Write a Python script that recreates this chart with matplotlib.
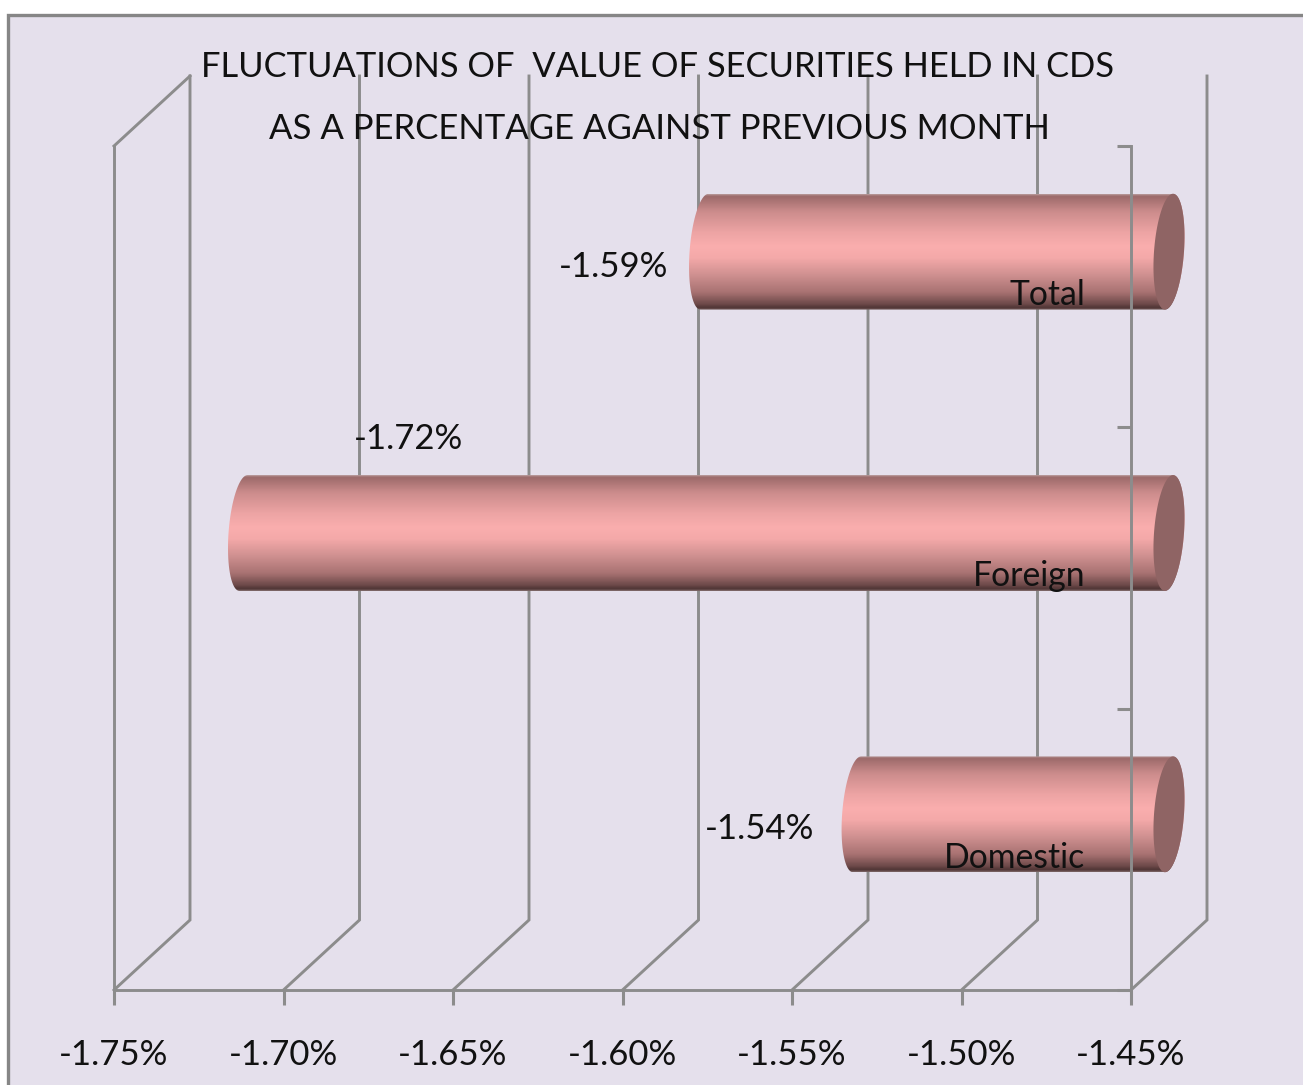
import matplotlib
matplotlib.use("Agg")
import matplotlib.pyplot as plt
import numpy as np
from matplotlib.colors import LinearSegmentedColormap
from matplotlib.patches import PathPatch, Rectangle
from matplotlib.path import Path
from matplotlib.transforms import IdentityTransform

# Data
categories = ["Domestic", "Foreign", "Total"]
values = [-1.542, -1.723, -1.587]
x_ticks = [-1.75, -1.70, -1.65, -1.60, -1.55, -1.50, -1.45]
title_lines = ["FLUCTUATIONS OF  VALUE OF SECURITIES HELD IN CDS",
               "AS A PERCENTAGE AGAINST PREVIOUS MONTH"]

W, H = 1303, 1085
GREY = "#8C8C8C"
BG = "#E5E0EC"
INK = "#111111"
DEPTH = np.array([76, 70])
BAR_H = 0.412

plt.rcParams["font.family"] = ["Lato", "DejaVu Sans"]

fig = plt.figure(figsize=(W / 100, H / 100), dpi=100, facecolor="white")
fig.add_artist(Rectangle((8, -20), W + 20, H + 20 - 15, transform=IdentityTransform(),
                         facecolor=BG, edgecolor="#868686", linewidth=2.4, zorder=-1))

ax = fig.add_axes([114 / W, (H - 990) / H, 1017 / W, 844 / H])
ax.patch.set_alpha(0)
ax.set_autoscale_on(False)
ax.set_xlim(-1.75, -1.45)
ax.set_ylim(0, 3)

# Axes: left wall, floor front edge and right wall are the spines
ax.spines["top"].set_visible(False)
for s in ["left", "right", "bottom"]:
    ax.spines[s].set_color(GREY)
    ax.spines[s].set_linewidth(2.1)

ax.set_xticks(x_ticks)
ax.set_xticklabels([f"{v:.2f}%" for v in x_ticks], fontsize=25, color=INK)
ax.set_yticks([0, 1, 2, 3])
ax.set_yticklabels([])
ax.yaxis.tick_right()
ax.tick_params(axis="x", length=11, width=2.2, color=GREY, pad=24)
ax.tick_params(axis="y", direction="in", length=10, width=2.2, color=GREY)


def to_px(x, y, depth=0.0):
    return ax.transData.transform((x, y)) + depth * DEPTH


# Gridlines running back along the floor and up the back wall
for v in x_ticks:
    pts = np.array([to_px(v, 0), to_px(v, 0, 1), to_px(v, 3, 1)])
    ax.plot(pts[:, 0], pts[:, 1], color=GREY, lw=2.1, transform=IdentityTransform(),
            clip_on=False, zorder=1, solid_joinstyle="miter")
pts = np.array([to_px(-1.75, 3), to_px(-1.75, 3, 1)])
ax.plot(pts[:, 0], pts[:, 1], color=GREY, lw=2.1, transform=IdentityTransform(),
        clip_on=False, zorder=1)

# Cylinder bars
shade = LinearSegmentedColormap.from_list("cyl", [
    (0.0, "#B89A9A"), (0.015, "#9C6A6A"), (0.15, "#CC8C8C"), (0.33, "#EDA4A4"),
    (0.45, "#FAAEAE"), (0.55, "#F4A9A9"), (0.70, "#CF9090"), (0.85, "#A87272"),
    (0.95, "#6E4A4A"), (0.985, "#503535"), (1.0, "#7D6666")])
gradient = np.linspace(0, 1, 232).reshape(-1, 1)


def ellipse(cx, cy, a, b, t):
    # slightly sheared end of the cylinder
    return np.column_stack([cx + a * np.cos(t) + 0.07 * b * np.sin(t),
                            cy + b * np.sin(t)])


for i, v in enumerate(values):
    left = to_px(v, i + 0.5, 0.5)
    right = to_px(-1.45, i + 0.5, 0.5)
    b = abs(to_px(v, i + 0.5 + BAR_H / 2)[1] - to_px(v, i + 0.5)[1])
    a = 15
    t_left = np.linspace(np.pi / 2, 3 * np.pi / 2, 40)
    t_right = np.linspace(-np.pi / 2, np.pi / 2, 40)
    outline = np.vstack([ellipse(left[0], left[1], a, b, t_left),
                         ellipse(right[0], right[1], a, b, t_right)])
    body = PathPatch(Path(np.vstack([outline, outline[:1]])), transform=IdentityTransform(),
                     facecolor="none", edgecolor="none", zorder=2)
    ax.add_patch(body)
    im = ax.imshow(gradient, cmap=shade, vmin=0, vmax=1, aspect="auto", origin="upper",
                   extent=(left[0] - a - 5, right[0] + a + 5, left[1] - b, left[1] + b),
                   transform=IdentityTransform(), zorder=2, interpolation="bilinear")
    im.set_clip_box(fig.bbox)
    im.set_clip_path(body)
    cap = ellipse(right[0], right[1], a, b, np.linspace(0, 2 * np.pi, 80))
    ax.fill(cap[:, 0], cap[:, 1], color="#8F6464", lw=0, transform=IdentityTransform(),
            clip_on=False, zorder=2.1)

# Category names sit in the front plane, right aligned inside the right wall
for i, name in enumerate(categories):
    ax.annotate(name, xy=(-1.45, i + 0.5), xytext=(-33, -6), textcoords="offset points",
                ha="right", va="center", fontsize=24.3, color=INK, zorder=4)

# Value labels
label_px = [(760, 829), (409, 439), (614, 267)]
for i, v in enumerate(values):
    fig.text(label_px[i][0] / W, 1 - label_px[i][1] / H, f"{v:.2f}%", ha="center", va="center",
             fontsize=25, color=INK, zorder=5)

fig.text(658 / W, 1 - 67 / H, title_lines[0], ha="center", va="center", fontsize=24.8, color=INK, zorder=5)
fig.text(659 / W, 1 - 129 / H, title_lines[1], ha="center", va="center", fontsize=25, color=INK, zorder=5)

fig.savefig("out.png", dpi=100)
